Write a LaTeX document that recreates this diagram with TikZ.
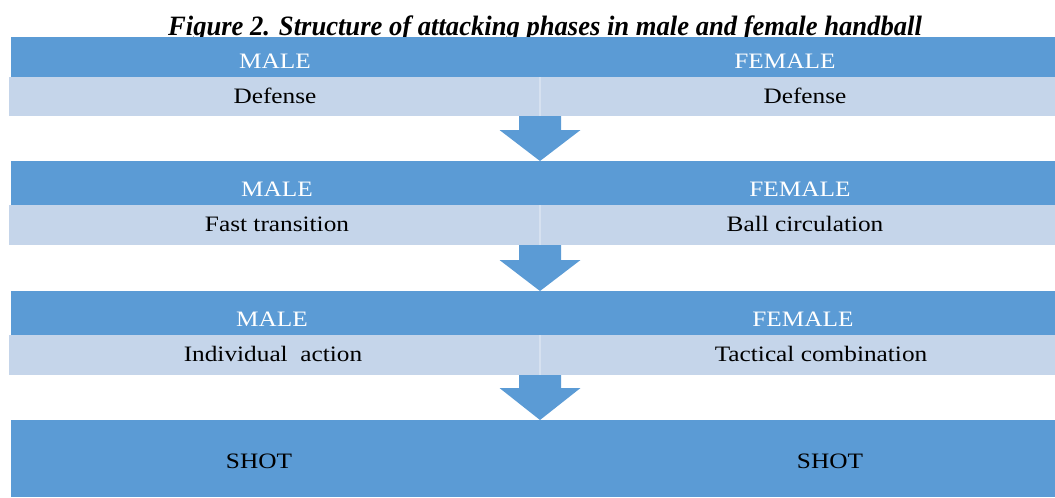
\documentclass[tikz,border=0pt]{standalone}
\usepackage{fontspec}
\setmainfont{Liberation Serif}[FakeStretch=1.15]
\newfontfamily\titlefont{Liberation Serif}[FakeStretch=0.95]
\usetikzlibrary{calc}
\definecolor{darkband}{HTML}{5B9BD5}
\definecolor{lightband}{HTML}{C5D5EA}
\definecolor{divider}{HTML}{D6E1F0}
\begin{document}
\begin{tikzpicture}[x=0.75pt,y=-0.75pt,
  band/.style={fill=darkband,draw=none,inner sep=0pt,outer sep=0pt,anchor=north west,minimum width=1044*0.75pt},
  cell/.style={fill=lightband,draw=none,inner sep=0pt,outer sep=0pt,anchor=north west},
  head/.style={text=white,font=\fontsize{16.5pt}{19pt}\selectfont,anchor=base,inner sep=0pt},
  body/.style={text=black,font=\fontsize{16.5pt}{19pt}\selectfont,anchor=base,inner sep=0pt},
  blockarrow/.style={fill=darkband,draw=none}]
\useasboundingbox (0,0) rectangle (1055,497);
% title
\node[anchor=base,inner sep=0pt,font=\titlefont\fontsize{21pt}{24pt}\selectfont\bfseries\itshape] (title) at (545,35) {Figure 2. Structure of attacking phases in male and female handball};
% row 1
\node[band,minimum height=40*0.75pt] (D1) at (11,37) {};
\node[cell,minimum width=531*0.75pt,minimum height=39*0.75pt] (L1a) at (9,77) {};
\node[cell,minimum width=515*0.75pt,minimum height=39*0.75pt] (L1b) at (540,77) {};
\draw[divider,line width=0.8pt] (L1a.north east) -- (L1a.south east);
% row 2
\node[band,minimum height=44*0.75pt] (D2) at (11,161) {};
\node[cell,minimum width=531*0.75pt,minimum height=40*0.75pt] (L2a) at (9,205) {};
\node[cell,minimum width=515*0.75pt,minimum height=40*0.75pt] (L2b) at (540,205) {};
\draw[divider,line width=0.8pt] (L2a.north east) -- (L2a.south east);
% row 3
\node[band,minimum height=44*0.75pt] (D3) at (11,291) {};
\node[cell,minimum width=531*0.75pt,minimum height=40*0.75pt] (L3a) at (9,335) {};
\node[cell,minimum width=515*0.75pt,minimum height=40*0.75pt] (L3b) at (540,335) {};
\draw[divider,line width=0.8pt] (L3a.north east) -- (L3a.south east);
% shot
\node[band,minimum height=77*0.75pt] (S) at (11,420) {};
% arrows
\fill[blockarrow] ($(L1a.south east)+(-21,0)$) -- ++(42,0) -- ++(0,14) -- ++(19.5,0) -- (L1a.south east |- D2.north) -- ($(L1a.south east)+(-40.5,14)$) -- ++(19.5,0) -- cycle;
\fill[blockarrow] ($(L2a.south east)+(-21,0)$) -- ++(42,0) -- ++(0,15) -- ++(19.5,0) -- (L2a.south east |- D3.north) -- ($(L2a.south east)+(-40.5,15)$) -- ++(19.5,0) -- cycle;
\fill[blockarrow] ($(L3a.south east)+(-21,0)$) -- ++(42,0) -- ++(0,13) -- ++(19.5,0) -- (L3a.south east |- S.north) -- ($(L3a.south east)+(-40.5,13)$) -- ++(19.5,0) -- cycle;
% texts
\node[head] (m1) at (275,68) {MALE};
\node[head] (f1) at (785,68) {FEMALE};
\node[body] (t1a) at (275,103) {Defense};
\node[body] (t1b) at (805,103) {Defense};
\node[head] (m2) at (277,196) {MALE};
\node[head] (f2) at (800,196) {FEMALE};
\node[body] (t2a) at (277,231) {Fast transition};
\node[body] (t2b) at (805,231) {Ball circulation};
\node[head] (m3) at (272,326) {MALE};
\node[head] (f3) at (803,326) {FEMALE};
\node[body] (t3a) at (273,361) {Individual\ \ action};
\node[body] (t3b) at (821,361) {Tactical combination};
\node[body] (s1) at (259,468) {SHOT};
\node[body] (s2) at (830,468) {SHOT};
\end{tikzpicture}
\end{document}
